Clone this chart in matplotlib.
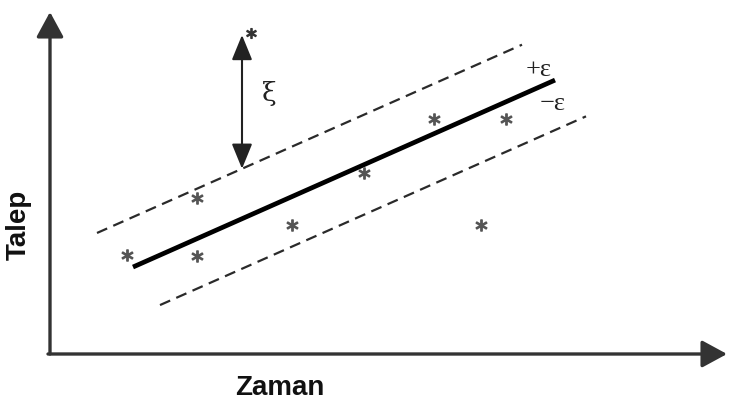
import numpy as np
import matplotlib.pyplot as plt

# observations (time, demand) in plot units, origin at the axis corner
obs_x = [77, 147, 147, 242, 314, 384, 456, 431]
obs_y = [99, 156, 98, 129, 181, 235, 235, 129]
# outlier sitting at the top of the xi arrow
out_x, out_y = 201, 321

# fitted line and tube half-width
fit_x = [83, 505]
slope, intercept = 0.443, 50.2
eps = 50
upper_x = [47, 472]
lower_x = [110, 536]

fig = plt.figure(figsize=(7.31, 4.06), dpi=100)
ax = fig.add_axes([0, 0, 1, 1])
ax.set_xlim(-50, 681)
ax.set_ylim(-51, 355)
ax.axis('off')

# axes with arrow heads
ax.annotate('', xy=(0, 342), xytext=(0, 0),
            arrowprops=dict(arrowstyle='-|>,head_length=0.7,head_width=0.38',
                            mutation_scale=22, lw=2.4, color='#333', shrinkA=0, shrinkB=0))
ax.annotate('', xy=(677, 0), xytext=(-2, 0),
            arrowprops=dict(arrowstyle='-|>,head_length=0.7,head_width=0.38',
                            mutation_scale=22, lw=2.4, color='#333', shrinkA=0, shrinkB=0))

# regression line and epsilon tube
fx = np.array(fit_x)
ax.plot(fx, slope * fx + intercept, color='black', lw=3.4, solid_capstyle='butt')
ux = np.array(upper_x)
ax.plot(ux, slope * ux + intercept + eps, color='#2a2a2a', lw=1.6, dashes=(5, 3))
lx = np.array(lower_x)
ax.plot(lx, slope * lx + intercept - eps, color='#2a2a2a', lw=1.6, dashes=(5, 3))

# data points
ax.plot(obs_x, obs_y, ls='none', marker='$*$', ms=8, color='#555')
ax.plot([out_x], [out_y], ls='none', marker='$*$', ms=7, color='#333')

# slack variable xi between the outlier and the tube
xi_x = 192
ax.annotate('', xy=(xi_x, 319), xytext=(xi_x, slope * xi_x + intercept + eps),
            arrowprops=dict(arrowstyle='<|-|>,head_length=1.1,head_width=0.45',
                            mutation_scale=14, lw=1.5, color='#222', shrinkA=0, shrinkB=0))
ax.text(219, 262, 'ξ', fontsize=19, ha='center', va='center', color='#222',
        family='DejaVu Serif')

ax.text(489, 285, '+ε', fontsize=19, ha='center', va='center', color='#222',
        family='Liberation Serif')
ax.text(503, 251, '−ε', fontsize=19, ha='center', va='center', color='#222',
        family='Liberation Serif')

# axis titles
ax.text(230, -33, 'Zaman', fontsize=20, fontweight='bold', family='Liberation Sans',
        ha='center', va='center', color='#111')
ax.text(-31, 130, 'Talep', fontsize=20, fontweight='bold', family='Liberation Sans',
        ha='center', va='center', rotation=90, color='#111')

fig.savefig('out.png', dpi=100)
